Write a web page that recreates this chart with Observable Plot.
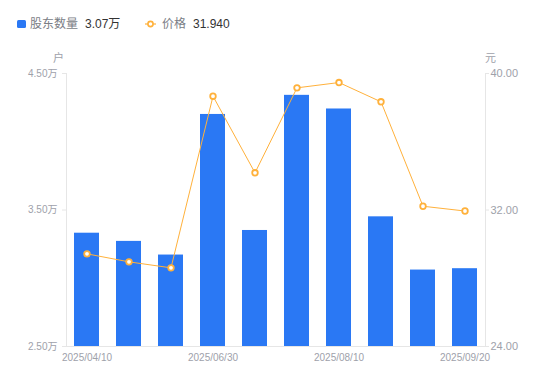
<!DOCTYPE html>
<html><head><meta charset="utf-8">
<script src="https://cdn.jsdelivr.net/npm/d3@7"></script>
<script src="https://cdn.jsdelivr.net/npm/@observablehq/plot@0.6"></script>
<style>
html,body{margin:0;padding:0;background:#fff;}
#wrap{position:relative;width:550px;height:381px;font-family:"Liberation Sans","Noto Sans CJK SC",sans-serif;}
#wrap svg{position:absolute;left:0;top:0;}
.lg{position:absolute;top:17px;font-size:12px;line-height:14px;white-space:nowrap;}
.unit{position:absolute;font-size:11px;color:#9ea1aa;line-height:12px;}
</style>
</head><body>
<div id="wrap">
  <div class="lg" style="left:17px;">
    <span style="display:inline-block;width:9px;height:8px;background:#2a78f4;border-radius:1.5px;vertical-align:-0px;"></span><span style="color:#7a7d85;margin-left:4px;">股东数量</span><span style="color:#333;margin-left:7px;" id="v1"></span>
  </div>
  <div class="lg" style="left:145px;">
    <svg width="11" height="8" style="position:static;vertical-align:0px;"><line x1="0" y1="4" x2="11" y2="4" stroke="#ffb13b" stroke-width="1.2"/><circle cx="5.5" cy="4" r="2.6" fill="#fff" stroke="#ffb13b" stroke-width="1.6"/></svg><span style="color:#7a7d85;margin-left:6px;">价格</span><span style="color:#333;margin-left:7px;" id="v2"></span>
  </div>
  <div class="unit" style="left:53px;top:52px;">户</div>
  <div class="unit" style="left:485px;top:52px;">元</div>
</div>
<script>
const dates = ["2025/04/10","2025/04/30","2025/05/30","2025/06/30","2025/07/10","2025/07/31","2025/08/10","2025/08/31","2025/09/10","2025/09/20"];
const holders = [3.33, 3.27, 3.17, 4.20, 3.35, 4.34, 4.24, 3.45, 3.06, 3.07]; // 万户
const prices = [29.43, 28.96, 28.61, 38.67, 34.18, 39.16, 39.47, 38.34, 32.22, 31.94]; // 元
const leftTicks = [2.5, 3.5, 4.5];
const rightTicks = [24, 32, 40];
const xTickLabels = ["2025/04/10","2025/06/30","2025/08/10","2025/09/20"];

const L0 = leftTicks[0], L1 = leftTicks[leftTicks.length-1];
const R0 = rightTicks[0], R1 = rightTicks[rightTicks.length-1];
const toLeft = p => L0 + (p - R0) * (L1 - L0) / (R1 - R0);
const fromLeft = v => R0 + (v - L0) * (R1 - R0) / (L1 - L0);

const rows = dates.map((d, i) => ({date: d, holders: holders[i], price: prices[i]}));

document.getElementById("v1").textContent = holders[holders.length-1].toFixed(2) + "万";
document.getElementById("v2").textContent = prices[prices.length-1].toFixed(3);

const tickText = "#9ea1aa";
const lineCol = "#e6e6e6";
const chart = Plot.plot({
  width: 550, height: 381,
  marginLeft: 66, marginRight: 65, marginTop: 73, marginBottom: 35,
  style: {fontFamily: '"Liberation Sans","Noto Sans CJK SC",sans-serif', fontSize: "10px", background: "transparent", color: tickText},
  x: {domain: dates, paddingInner: 0.4, paddingOuter: 0.18, label: null},
  y: {domain: [L0, L1], label: null},
  marks: [
    Plot.frame({anchor: "left", stroke: lineCol}),
    Plot.frame({anchor: "right", stroke: lineCol}),
    Plot.barY(rows, {x: "date", y1: L0, y2: "holders", fill: "#2a78f4"}),
    Plot.ruleY([L0], {stroke: lineCol}),
    Plot.axisY({anchor: "left", ticks: leftTicks, tickFormat: d => d.toFixed(2) + "万", tickSize: 4, tickPadding: 5, stroke: lineCol, fill: tickText, label: null}),
    Plot.axisY({anchor: "right", ticks: rightTicks.map(toLeft), tickFormat: v => fromLeft(v).toFixed(2), tickSize: 3, tickPadding: 2, stroke: lineCol, fill: tickText, fontSize: 11, label: null}),
    Plot.axisX({ticks: xTickLabels, tickSize: 0, tickPadding: 7, fill: tickText, label: null}),
    Plot.line(rows, {x: "date", y: d => toLeft(d.price), stroke: "#ffb13b", strokeWidth: 1}),
    Plot.dot(rows, {x: "date", y: d => toLeft(d.price), r: 2.8, fill: "#fff", stroke: "#ffb13b", strokeWidth: 1.8})
  ]
});
document.getElementById("wrap").appendChild(chart);
</script>
</body></html>
